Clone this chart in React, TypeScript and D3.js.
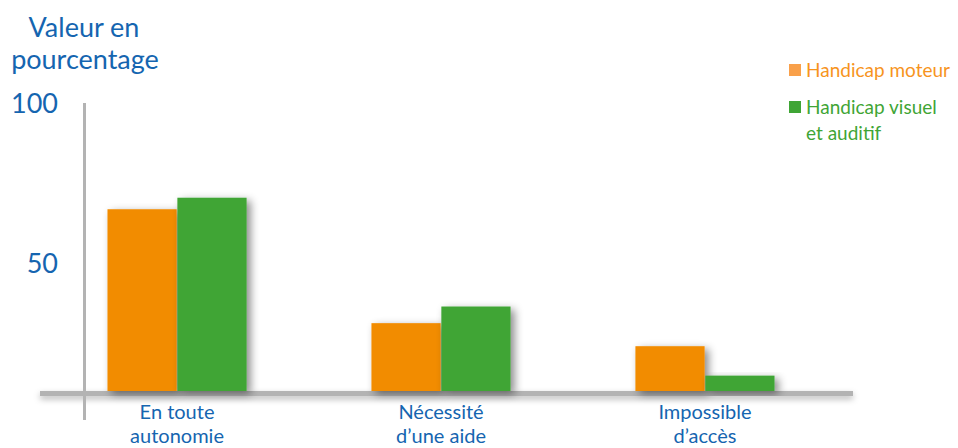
import React from "react";
import * as d3 from "d3";

const categories = [["En toute", "autonomie"], ["Nécessité", "d’une aide"], ["Impossible", "d’accès"]];
const seriesNames = ["Handicap moteur", "Handicap visuel et auditif"];
const moteur = [71, 26.5, 17.5];
const visuel = [75.5, 33, 6];
const tickValues = [50, 100];

const W = 958;
const H = 448;
const BLUE = "#1565b0";
const ORANGE = "#f28c00";
const GREEN = "#3fa535";
const FONT = "'Lato', 'Open Sans', sans-serif";

export default function App() {
  const keys = categories.map((c) => c.join(" "));
  const x0 = d3.scaleBand().domain(keys).range([45, 837]).paddingInner(0.473).paddingOuter(0.2367);
  const x1 = d3.scaleBand().domain(seriesNames).range([0, x0.bandwidth()]).paddingInner(0.01);
  const y = d3.scaleLinear().domain([0, 50]).range([391, 263]);
  const colors = d3.scaleOrdinal<string, string>().domain(seriesNames).range([ORANGE, GREEN]);
  const values = [moteur, visuel];
  const axisTop = 103;

  return (
    <svg width={W} height={H} style={{ position: "absolute", left: 0, top: 0 }}>
      <defs>
        <filter id="shadow" x="-20%" y="-20%" width="150%" height="150%">
          <feDropShadow dx="4" dy="3" stdDeviation="4" floodColor="#000" floodOpacity="0.45" />
        </filter>
        <filter id="shadowLine" x="-5%" y="-200%" width="110%" height="500%">
          <feDropShadow dx="0" dy="3" stdDeviation="3" floodColor="#000" floodOpacity="0.3" />
        </filter>
      </defs>
      <rect x={0} y={0} width={W} height={H} fill="#fff" />
      <text x={84} y={37} textAnchor="middle" fontFamily={FONT} fontSize={27} fill={BLUE}>Valeur en</text>
      <text x={85} y={69} textAnchor="middle" fontFamily={FONT} fontSize={27} fill={BLUE}>pourcentage</text>
      {tickValues.map((v) => (
        <text key={v} x={58} y={(v === 100 ? axisTop : y(v)) + 10} textAnchor="end" fontFamily={FONT} fontSize={27} fill={BLUE}>
          {v}
        </text>
      ))}
      {/* baseline */}
      <rect x={40} y={y(0)} width={813} height={5} fill="#b3b3b3" filter="url(#shadowLine)" />
      {/* bars */}
      {keys.map((k, i) => (
        <g key={k} transform={`translate(${x0(k)},0)`}>
          {seriesNames.map((s, j) => (
            <rect
              key={s}
              x={x1(s)}
              y={y(values[j][i])}
              width={x1.bandwidth()}
              height={y(0) - y(values[j][i])}
              fill={colors(s)}
              filter="url(#shadow)"
            />
          ))}
        </g>
      ))}
      {/* y axis */}
      <rect x={83} y={axisTop} width={3} height={420 - axisTop} fill="#b3b3b3" />
      {categories.map((c, i) =>
        c.map((line, li) => (
          <text
            key={`${i}-${li}`}
            x={(x0(keys[i]) as number) + x0.bandwidth() / 2}
            y={419 + li * 24}
            textAnchor="middle"
            fontFamily={FONT}
            fontSize={20}
            fill={BLUE}
          >
            {line}
          </text>
        ))
      )}
      {/* legend */}
      <rect x={789} y={64} width={12} height={12} fill="#f9a04a" />
      <text x={806} y={77} fontFamily={FONT} fontSize={19} fill="#f7941d">Handicap moteur</text>
      <rect x={789} y={101} width={12} height={12} fill={GREEN} />
      <text x={806} y={114} fontFamily={FONT} fontSize={19} fill={GREEN}>Handicap visuel</text>
      <text x={806} y={140} fontFamily={FONT} fontSize={19} fill={GREEN}>et auditif</text>
    </svg>
  );
}
